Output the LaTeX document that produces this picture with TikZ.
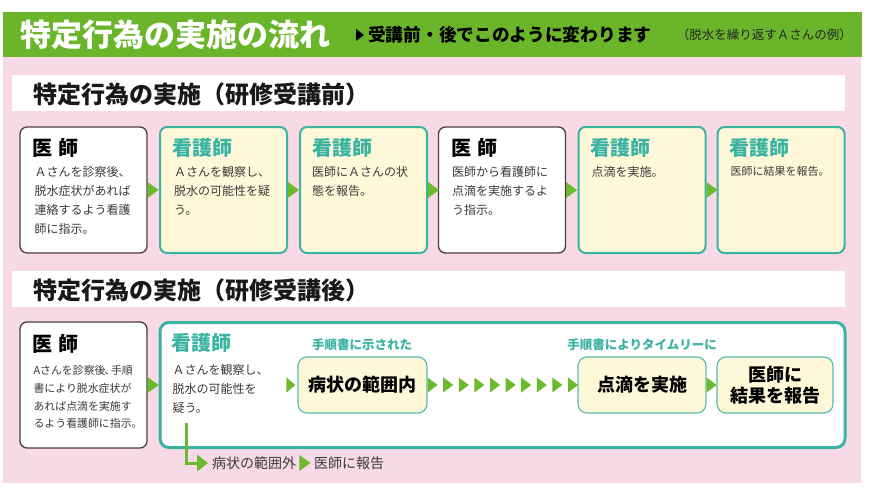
\documentclass[tikz,border=0pt]{standalone}
\usepackage{fontspec}
\setmainfont{Noto Sans CJK JP}
\usetikzlibrary{calc}
\definecolor{hgreen}{HTML}{6BB52B}
\definecolor{tgreen}{HTML}{6CB92E}
\definecolor{pinkbg}{HTML}{F8DAE6}
\definecolor{nteal}{HTML}{3AB3A2}
\definecolor{cream}{HTML}{FFF8D8}
\definecolor{dborder}{HTML}{4B3E3E}
\definecolor{txt}{HTML}{3A3A3A}
\newcommand\tri[1]{\fill[tgreen] ($(#1)+(0,-8)$) -- ++(11,8) -- ++(-11,8) -- cycle;}
\begin{document}
\begin{tikzpicture}[x=1pt,y=-1pt,
  docbox/.style={draw=dborder, line width=1.3pt, fill=white, rounded corners=7pt, minimum width=127pt, minimum height=126pt, inner sep=0pt},
  nurbox/.style={draw=nteal, line width=2pt, fill=cream, rounded corners=7pt, minimum width=127pt, minimum height=126pt, inner sep=0pt},
  inbox/.style={draw=nteal!85, line width=1.2pt, fill=cream, rounded corners=9pt, minimum height=56pt, inner sep=0pt, font=\fontsize{18}{21}\selectfont\bfseries, align=center},
  dtitle/.style={anchor=west, inner sep=0pt, font=\fontsize{20}{20}\selectfont\bfseries, text=black},
  ntitle/.style={anchor=west, inner sep=0pt, font=\fontsize{20}{20}\selectfont\bfseries, text=nteal},
  body/.style={anchor=north west, inner sep=0pt, align=left, text=txt, font=\fontsize{12}{19}\selectfont},
  body2/.style={anchor=north west, inner sep=0pt, align=left, text=txt, font=\fontsize{10.9}{17.7}\selectfont},
  lab/.style={inner sep=0pt, text=nteal, font=\fontsize{12.5}{12.5}\selectfont\bfseries},
  banner/.style={fill=white, minimum width=833pt, minimum height=36pt, inner sep=0pt},
  bantext/.style={anchor=west, inner sep=0pt, font=\fontsize{24}{24}\selectfont\bfseries, text=black!90}
]
\useasboundingbox (0,0) rectangle (872,495);
\fill[white] (0,0) rectangle (872,495);
\fill[pinkbg] (3,57) rectangle (861,483);
\fill[hgreen] (3,12) rectangle (862,57);

% header
\node[anchor=west, inner sep=0pt, text=white, font=\fontsize{31}{31}\selectfont\bfseries] (title) at (20,35) {特定行為の実施の流れ};
\fill[black] (356,29) -- (364,35) -- (356,41) -- cycle;
\node[anchor=west, inner sep=0pt, font=\fontsize{17.7}{17.7}\selectfont\bfseries] (sub) at (368,35) {受講前・後でこのように変わります};
\node[anchor=east, inner sep=0pt, text=black!85, font=\fontsize{12.5}{12.5}\selectfont] (ex) at (852,35) {（脱水を繰り返すＡさんの例）};

% banner 1
\node[banner] (ban1) at (428.5,93) {};
\node[bantext] (ban1t) at (33,94) {特定行為の実施（研修受講前）};

% row 1
\node[docbox] (b1) at (83.5,190) {};
\node[nurbox] (b2) at (223.5,190) {};
\node[nurbox] (b3) at (363.5,190) {};
\node[docbox] (b4) at (502,190) {};
\node[nurbox] (b5) at (642,190) {};
\node[nurbox] (b6) at (781,190) {};

\node[dtitle] (t1) at ($(b1.north west)+(13,22)$) {医\hspace{0.3em}師};
\node[ntitle] (t2) at ($(b2.north west)+(13,22)$) {看護師};
\node[ntitle] (t3) at ($(b3.north west)+(13,22)$) {看護師};
\node[dtitle] (t4) at ($(b4.north west)+(13,22)$) {医\hspace{0.3em}師};
\node[ntitle] (t5) at ($(b5.north west)+(13,22)$) {看護師};
\node[ntitle] (t6) at ($(b6.north west)+(13,22)$) {看護師};

\node[body] (x1) at ($(b1.north west)+(15,40)$) {Ａさんを診察後、\\脱水症状があれば\\連絡するよう看護\\師に指示。};
\node[body] (x2) at ($(b2.north west)+(15,40)$) {Ａさんを観察し、\\脱水の可能性を疑\\う。};
\node[body] (x3) at ($(b3.north west)+(13,40)$) {医師にＡさんの状\\態を報告。};
\node[body] (x4) at ($(b4.north west)+(14,40)$) {医師から看護師に\\点滴を実施するよ\\う指示。};
\node[body] (x5) at ($(b5.north west)+(14,40)$) {点滴を実施。};
\node[body, font=\fontsize{11}{19}\selectfont] (x6) at ($(b6.north west)+(14,40)$) {医師に結果を報告。};

\tri{b1.east}
\tri{b2.east}
\tri{b3.east}
\tri{b4.east}
\tri{b5.east}

% banner 2
\node[banner] (ban2) at (428.5,289) {};
\node[bantext] (ban2t) at (33,290) {特定行為の実施（研修受講後）};

% row 2
\node[docbox] (c1) at (83.5,385) {};
\node[draw=nteal, line width=3pt, fill=white, rounded corners=9pt, minimum width=685pt, minimum height=125pt, inner sep=0pt] (big) at (502.5,385) {};
\tri{c1.east}

\node[dtitle] (ct1) at ($(c1.north west)+(13,23)$) {医\hspace{0.3em}師};
\node[body2] (cx1) at ($(c1.north west)+(14,44)$) {Aさんを診察後\kern-0.1em、\kern-0.4em手順\\書により脱水症状が\\あれば点滴を実施す\\るよう看護師に指示。};
\node[ntitle] (ct2) at ($(big.north west)+(13,22)$) {看護師};
\node[body] (cx2) at ($(big.north west)+(14,43)$) {Ａさんを観察し、\\脱水の可能性を\\疑う。};

\node[inbox, minimum width=129pt] (inr) at (362.5,385) {病状の範囲内};
\node[inbox, minimum width=128pt] (drip) at (642,385) {点滴を実施};
\node[inbox, minimum width=116pt] (rep) at (775,385) {医師に\\結果を報告};
\node[lab] (l1) at (362,345) {手順書に示された};
\node[lab] (l2) at (642,345) {手順書によりタイムリーに};

\fill[tgreen] ($(inr.west)+(-11,-7.5)$) -- ++(9,7.5) -- ++(-9,7.5) -- cycle;
\foreach \i in {0,...,9}{
  \fill[tgreen] ($(inr.east)+(15.6*\i,-7.5)$) -- ++(10,7.5) -- ++(-10,7.5) -- cycle;
}
\fill[tgreen] ($(drip.east)+(0,-7.5)$) -- ++(10,7.5) -- ++(-10,7.5) -- cycle;

% out-of-range branch
\coordinate (ls) at (186,423);
\coordinate (lc) at (186,463);
\node[anchor=west, inner sep=0pt, text=txt, font=\fontsize{14}{14}\selectfont] (outr) at (212,463) {病状の範囲外};
\node[anchor=west, inner sep=0pt, text=txt, font=\fontsize{14}{14}\selectfont] (rep2) at (314,463) {医師に報告};
\draw[tgreen, line width=3pt] (ls) -- (lc) -- ($(lc)+(12,0)$);
\fill[tgreen] ($(lc)+(11,-8.5)$) -- ++(11,8.5) -- ++(-11,8.5) -- cycle;
\fill[tgreen] ($(outr.east)+(3,-8)$) -- ++(11,8) -- ++(-11,8) -- cycle;
\end{tikzpicture}
\end{document}
